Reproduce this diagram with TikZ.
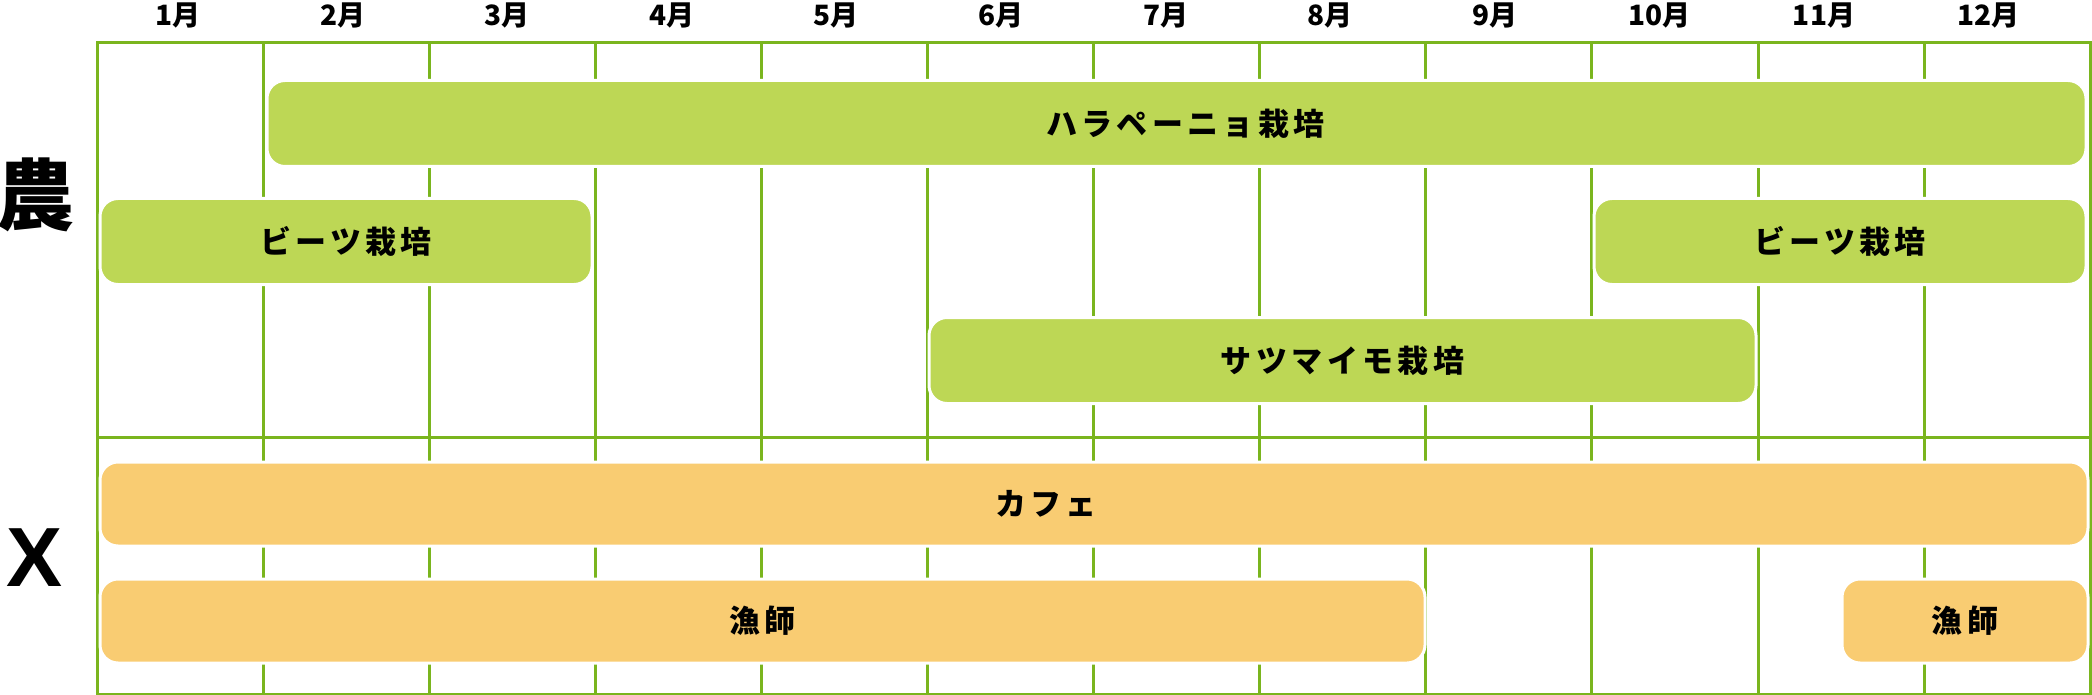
\documentclass[tikz,border=0pt]{standalone}
\usepackage{fontspec}
\setmainfont{Noto Sans CJK JP}
\newfontfamily\jpbarre{Noto Sans CJK JP}[LetterSpace=14]
\newfontfamily\latinlourd{Liberation Sans}
\definecolor{vertgrille}{HTML}{7AB51E}
\definecolor{vertbarre}{HTML}{BDD755}
\definecolor{orangebarre}{HTML}{F9CC72}

\begin{document}
\begin{tikzpicture}[x=1pt,y=-1pt]
% Styles
\tikzstyle{grille}=[vertgrille,line width=3pt]
\tikzstyle{barre}=[draw=white,line width=3pt,rounded corners=18pt,inner sep=0pt,font=\jpbarre\bfseries\fontsize{31}{36}\selectfont]
\tikzstyle{barreverte}=[barre,fill=vertbarre,minimum height=86pt]
\tikzstyle{barreorange}=[barre,fill=orangebarre,minimum height=84pt]
\tikzstyle{mois}=[inner sep=0pt,font=\bfseries\fontsize{28}{30}\selectfont]
\tikzstyle{categorie}=[inner sep=0pt,font=\bfseries\fontsize{78}{80}\selectfont]
% Dimensions
\def\GaucheGrille{97}
\def\LargeurMois{166.1}
\def\PasEtiquettes{164.6}
\def\HautGrille{43}
\def\MilieuGrille{437}
\def\BasGrille{694}
% Rangees des barres
\def\RangA{123.5}
\def\RangB{241.5}
\def\RangC{360.5}
\def\RangD{504}
\def\RangE{621}
\useasboundingbox (0,0) rectangle (2092,695);
% Grille
\draw[grille] (\GaucheGrille,\HautGrille) rectangle ({\GaucheGrille+(12)*\LargeurMois},\BasGrille);
\draw[grille] (\GaucheGrille,\MilieuGrille) -- ({\GaucheGrille+(12)*\LargeurMois},\MilieuGrille);
\draw[grille] ({\GaucheGrille+(1)*\LargeurMois},\HautGrille) -- ({\GaucheGrille+(1)*\LargeurMois},\BasGrille);
\draw[grille] ({\GaucheGrille+(2)*\LargeurMois},\HautGrille) -- ({\GaucheGrille+(2)*\LargeurMois},\BasGrille);
\draw[grille] ({\GaucheGrille+(3)*\LargeurMois},\HautGrille) -- ({\GaucheGrille+(3)*\LargeurMois},\BasGrille);
\draw[grille] ({\GaucheGrille+(4)*\LargeurMois},\HautGrille) -- ({\GaucheGrille+(4)*\LargeurMois},\BasGrille);
\draw[grille] ({\GaucheGrille+(5)*\LargeurMois},\HautGrille) -- ({\GaucheGrille+(5)*\LargeurMois},\BasGrille);
\draw[grille] ({\GaucheGrille+(6)*\LargeurMois},\HautGrille) -- ({\GaucheGrille+(6)*\LargeurMois},\BasGrille);
\draw[grille] ({\GaucheGrille+(7)*\LargeurMois},\HautGrille) -- ({\GaucheGrille+(7)*\LargeurMois},\BasGrille);
\draw[grille] ({\GaucheGrille+(8)*\LargeurMois},\HautGrille) -- ({\GaucheGrille+(8)*\LargeurMois},\BasGrille);
\draw[grille] ({\GaucheGrille+(9)*\LargeurMois},\HautGrille) -- ({\GaucheGrille+(9)*\LargeurMois},\BasGrille);
\draw[grille] ({\GaucheGrille+(10)*\LargeurMois},\HautGrille) -- ({\GaucheGrille+(10)*\LargeurMois},\BasGrille);
\draw[grille] ({\GaucheGrille+(11)*\LargeurMois},\HautGrille) -- ({\GaucheGrille+(11)*\LargeurMois},\BasGrille);
% Mois
\node[mois] (Jan) at ({178+(0)*\PasEtiquettes},15) {1月};
\node[mois] (Fev) at ({178+(1)*\PasEtiquettes},15) {2月};
\node[mois] (Mar) at ({178+(2)*\PasEtiquettes},15) {3月};
\node[mois] (Avr) at ({178+(3)*\PasEtiquettes},15) {4月};
\node[mois] (Mai) at ({178+(4)*\PasEtiquettes},15) {5月};
\node[mois] (Juin) at ({178+(5)*\PasEtiquettes},15) {6月};
\node[mois] (Juil) at ({178+(6)*\PasEtiquettes},15) {7月};
\node[mois] (Aout) at ({178+(7)*\PasEtiquettes},15) {8月};
\node[mois] (Sep) at ({178+(8)*\PasEtiquettes},15) {9月};
\node[mois] (Oct) at ({178+(9)*\PasEtiquettes},15) {10月};
\node[mois] (Nov) at ({178+(10)*\PasEtiquettes},15) {11月};
\node[mois] (Dec) at ({178+(11)*\PasEtiquettes},15) {12月};
% Categories
\node[categorie] (Agri) at (35,195) {農};
\node[categorie,font=\latinlourd\bfseries\fontsize{84}{86}\selectfont] (AutreX) at (35,558) {X};
% Barres vertes
\node[barreverte,minimum width=1819pt] (Jalapeno) at (1176.5,\RangA) {\hspace{18pt}ハラペーニョ栽培};
\node[barreverte,minimum width=492pt] (BetteA) at (346,\RangB) {ビーツ栽培};
\node[barreverte,minimum width=492pt] (BetteB) at (1840,\RangB) {ビーツ栽培};
\node[barreverte,minimum width=827pt] (Patate) at (1342.5,\RangC) {サツマイモ栽培};
% Barres orange
\node[barreorange,minimum width=1988pt] (Cafe) at (1094,\RangD) {カフェ\hspace{96pt}\null};
\node[barreorange,minimum width=1325pt] (PecheA) at (762.5,\RangE) {漁師};
\node[barreorange,minimum width=246pt] (PecheB) at (1965,\RangE) {漁師};
\end{tikzpicture}
\end{document}
